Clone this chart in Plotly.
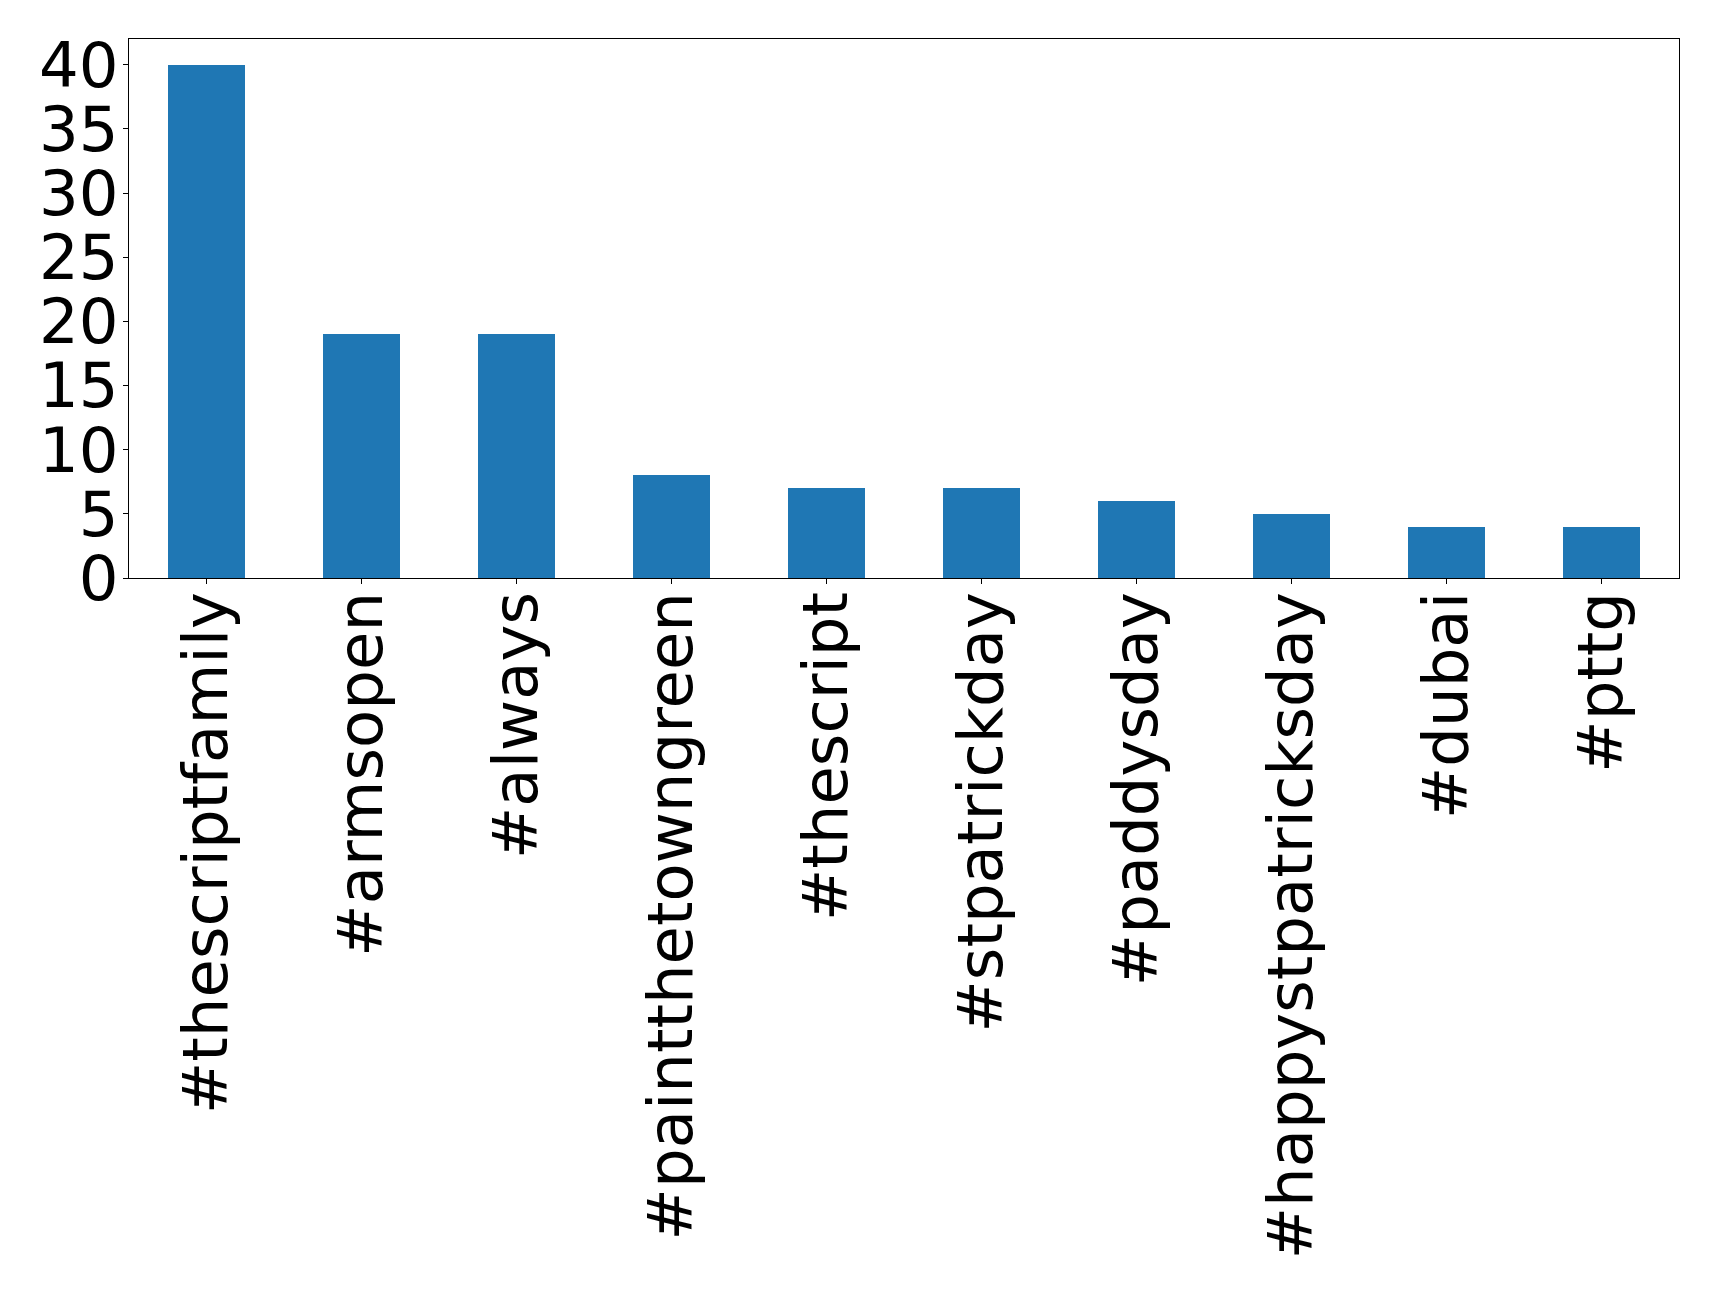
import plotly.graph_objects as go

hashtags = ["#thescriptfamily", "#armsopen", "#always", "#paintthetowngreen",
            "#thescript", "#stpatrickday", "#paddysday", "#happystpatricksday",
            "#dubai", "#pttg"]
counts = [40, 19, 19, 8, 7, 7, 6, 5, 4, 4]
y_ticks = [0, 5, 10, 15, 20, 25, 30, 35, 40]

FONT = "DejaVu Sans"

fig = go.Figure(go.Bar(
    x=list(range(len(hashtags))), y=counts, width=0.5,
    marker=dict(color="#1f77b4", line=dict(width=0)),
))

# page body has an 8px margin, so compensate
fig.update_layout(
    width=1711, height=1287,
    margin=dict(l=121, r=40, t=31, b=717),
    paper_bgcolor="white", plot_bgcolor="white",
    font=dict(family=FONT, size=62.5, color="black"),
    showlegend=False,
    bargap=0,
)
fig.update_xaxes(
    range=[-0.5, 9.5], tickvals=list(range(len(hashtags))), ticktext=hashtags,
    tickangle=-90, ticks="outside", ticklen=5, tickwidth=1, tickcolor="black",
    showline=True, linecolor="black", linewidth=1, mirror=True,
    showgrid=False, zeroline=False, ticklabelstandoff=-17,
    tickfont=dict(family=FONT, size=62.5, color="black"),
)
fig.update_yaxes(
    range=[0, 42], tickvals=y_ticks, ticktext=[str(v) for v in y_ticks],
    ticks="outside", ticklen=5, tickwidth=1, tickcolor="black",
    showline=True, linecolor="black", linewidth=1, mirror=True,
    showgrid=False, zeroline=False, ticklabelstandoff=-8,
    tickfont=dict(family=FONT, size=62.5, color="black"),
)

fig.write_html("out.html")
